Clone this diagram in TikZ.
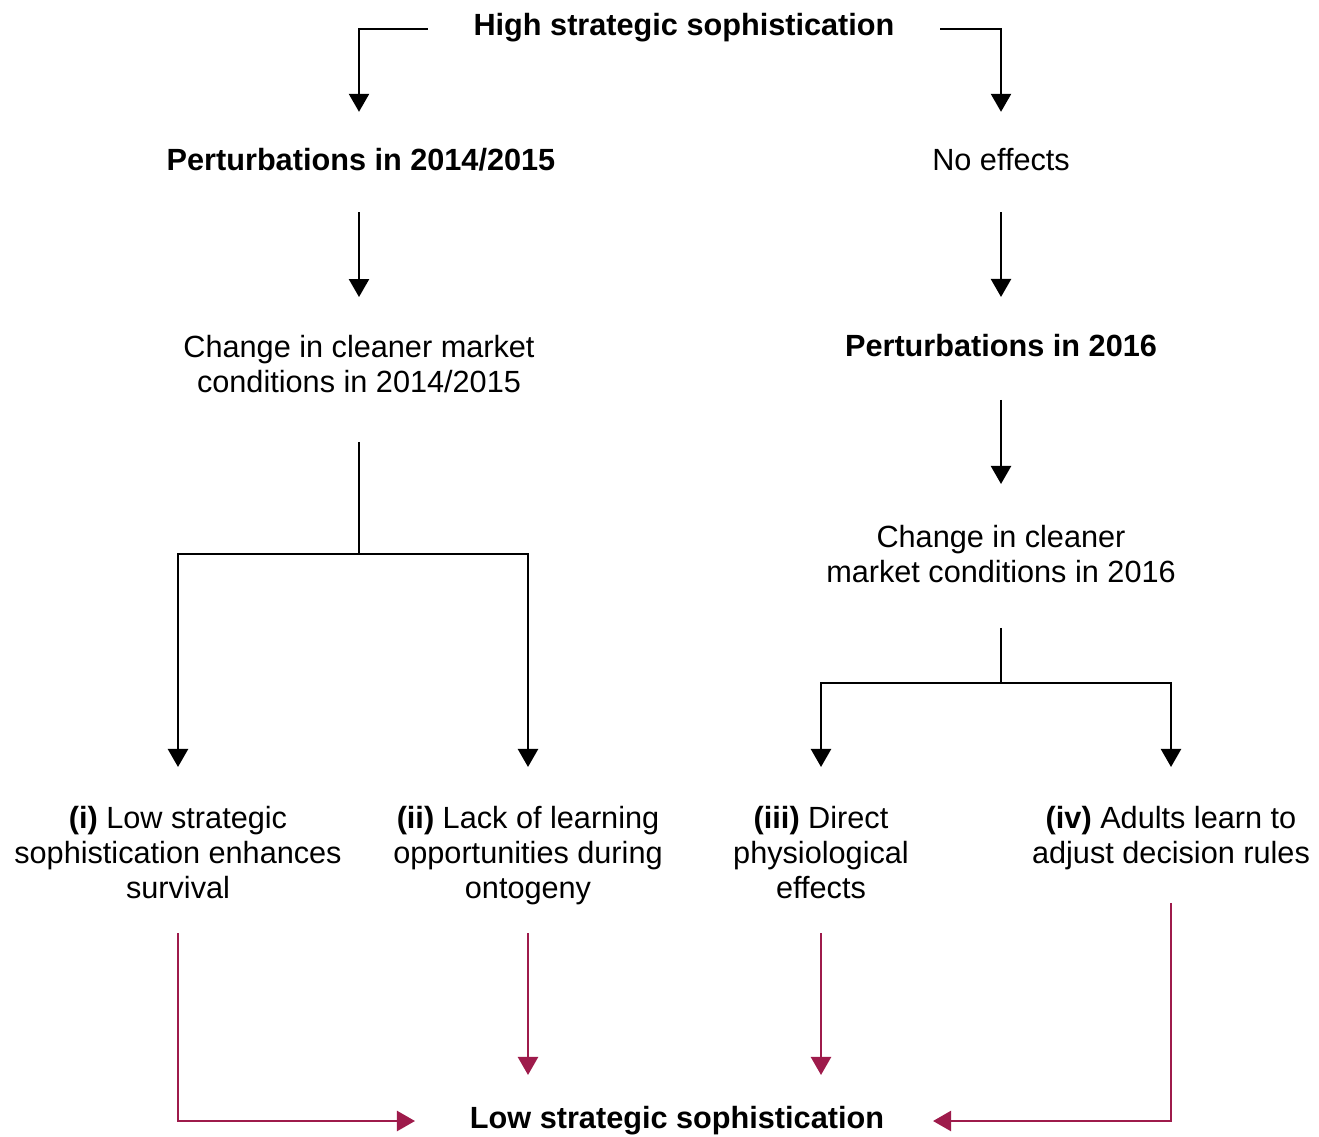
\documentclass[tikz,border=0pt]{standalone}
\usepackage{fontspec}
\setmainfont{Liberation Sans}
\usetikzlibrary{arrows.meta}
\definecolor{crim}{RGB}{158,27,75}
\begin{document}
\begin{tikzpicture}[x=0.75pt,y=-0.75pt,
  txt/.style={inner sep=0pt,outer sep=0pt,align=center,font=\fontsize{23}{26.25}\selectfont},
  link/.style={line width=1.8pt,black},
  arr/.style={link,-{Triangle[length=13.5pt,width=15pt]}},
  rarr/.style={line width=1.8pt,crim,-{Triangle[length=13.5pt,width=15pt]}}]
\useasboundingbox[fill=white] (0,0) rectangle (1319,1137);
% nodes
\node[txt] (high)  at (684,29)    {\textbf{High strategic sophistication}\strut};
\node[txt] (pert1) at (361,164)   {\textbf{Perturbations in 2014/2015}\strut};
\node[txt] (noeff) at (1001,164)  {No effects\strut};
\node[txt] (chg1)  at (359,367.5) {\strut Change in cleaner market\\\strut conditions in 2014/2015};
\node[txt] (pert2) at (1001,349)  {\textbf{Perturbations in 2016}\strut};
\node[txt] (chg2)  at (1001,557.5){\strut Change in cleaner\\\strut market conditions in 2016};
\node[txt] (r1) at (178,856)  {\strut\textbf{(i)} Low strategic\\\strut sophistication enhances\\\strut survival};
\node[txt] (r2) at (528,856)  {\strut\textbf{(ii)} Lack of learning\\\strut opportunities during\\\strut ontogeny};
\node[txt] (r3) at (821,856)  {\strut\textbf{(iii)} Direct\\\strut physiological\\\strut effects};
\node[txt] (r4) at (1171,838.5){\strut\textbf{(iv)} Adults learn to\\\strut adjust decision rules};
\node[txt] (low) at (677,1121) {\textbf{Low strategic sophistication}\strut};
\coordinate (j1) at (359,554);
\coordinate (j2) at (1001,683);
% black connectors
\draw[arr,shorten <=34.5pt,shorten >=26pt] (high.west) -| ([xshift=-1.5pt]pert1.north);
\draw[arr,shorten <=34.5pt,shorten >=26pt] (high.east) -| (noeff.north);
\draw[arr,shorten <=22.9pt,shorten >=26.6pt] (pert1.south -| chg1.north) -- (chg1.north);
\draw[arr,shorten <=22.9pt,shorten >=25.9pt] (noeff.south) -- (pert2.north);
\draw[arr,shorten <=25.1pt,shorten >=28.9pt] (pert2.south) -- (chg2.north);
\draw[link,shorten <=29.6pt] (chg1.south) -- (j1);
\draw[arr,shorten >=27.4pt] (j1) -| (r1.north);
\draw[arr,shorten >=27.4pt] (j1) -| (r2.north);
\draw[link,shorten <=26.6pt] (chg2.south) -- (j2);
\draw[arr,shorten >=27.4pt] (j2) -| (r3.north);
\draw[arr,shorten >=27.4pt] (j2) -| (r4.north);
% red connectors
\draw[rarr,shorten <=18.4pt,shorten >=41.25pt] (r1.south) |- (low.west);
\draw[rarr,shorten <=18.4pt,shorten >=21.4pt] (r2.south) -- (r2.south |- low.north);
\draw[rarr,shorten <=18.4pt,shorten >=21.4pt] (r3.south) -- (r3.south |- low.north);
\draw[rarr,shorten <=22.1pt,shorten >=36.75pt] (r4.south) |- (low.east);
\end{tikzpicture}
\end{document}
